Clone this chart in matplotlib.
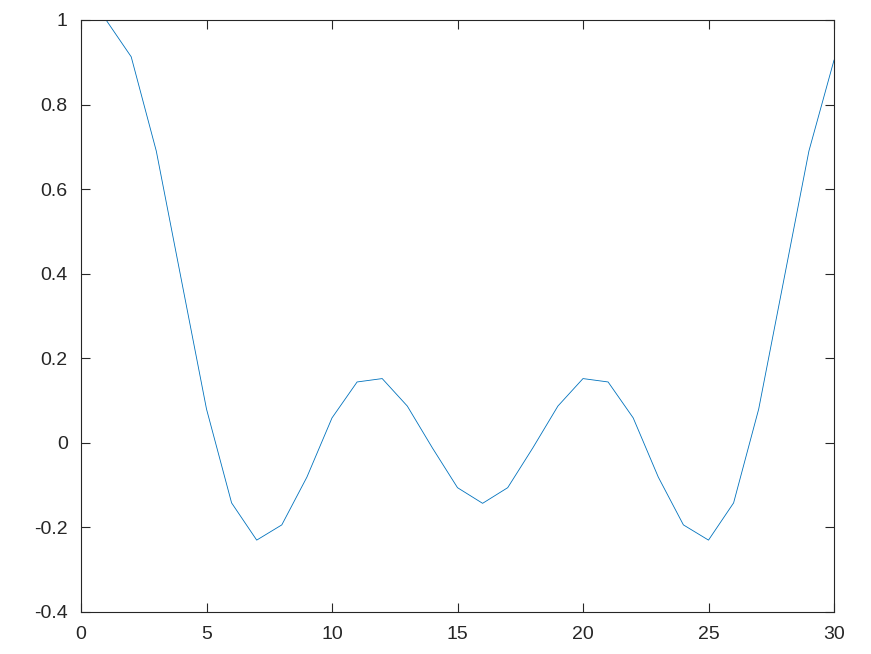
import matplotlib

matplotlib.use("Agg")
import matplotlib.pyplot as plt

# sample index and value
n = list(range(1, 31))
vals = [1.0, 0.913, 0.69, 0.385, 0.08, -0.142, -0.23, -0.194, -0.081, 0.059,
        0.144, 0.152, 0.087, -0.012, -0.106, -0.143, -0.106, -0.012, 0.087, 0.152,
        0.144, 0.059, -0.081, -0.194, -0.23, -0.142, 0.08, 0.385, 0.69, 0.905]

xticks = [0, 5, 10, 15, 20, 25, 30]
yticks = [-0.4, -0.2, 0, 0.2, 0.4, 0.6, 0.8, 1]
ylabels = ["-0.4", "-0.2", "0", "0.2", "0.4", "0.6", "0.8", "1"]

plt.rcParams["font.family"] = ["Liberation Sans", "DejaVu Sans"]

fig = plt.figure(figsize=(8.71, 6.54), dpi=100)
ax = fig.add_axes([81 / 871, 42 / 654, 753 / 871, 592 / 654])
ax.plot(n, vals, color="#0072bd", lw=0.6)

ax.set_xlim(0, 30)
ax.set_ylim(-0.4, 1)
ax.set_xticks(xticks)
ax.set_xticklabels([str(t) for t in xticks])
ax.set_yticks(yticks)
ax.set_yticklabels(ylabels)
ax.tick_params(direction="in", length=6.8, width=0.8, labelsize=14,
               colors="#262626", top=True, right=True)
ax.tick_params(axis="x", pad=10)
ax.tick_params(axis="y", pad=9.5)
for s in ax.spines.values():
    s.set_color("#262626")
    s.set_linewidth(0.8)

fig.savefig("out.png", dpi=100, facecolor="white")
